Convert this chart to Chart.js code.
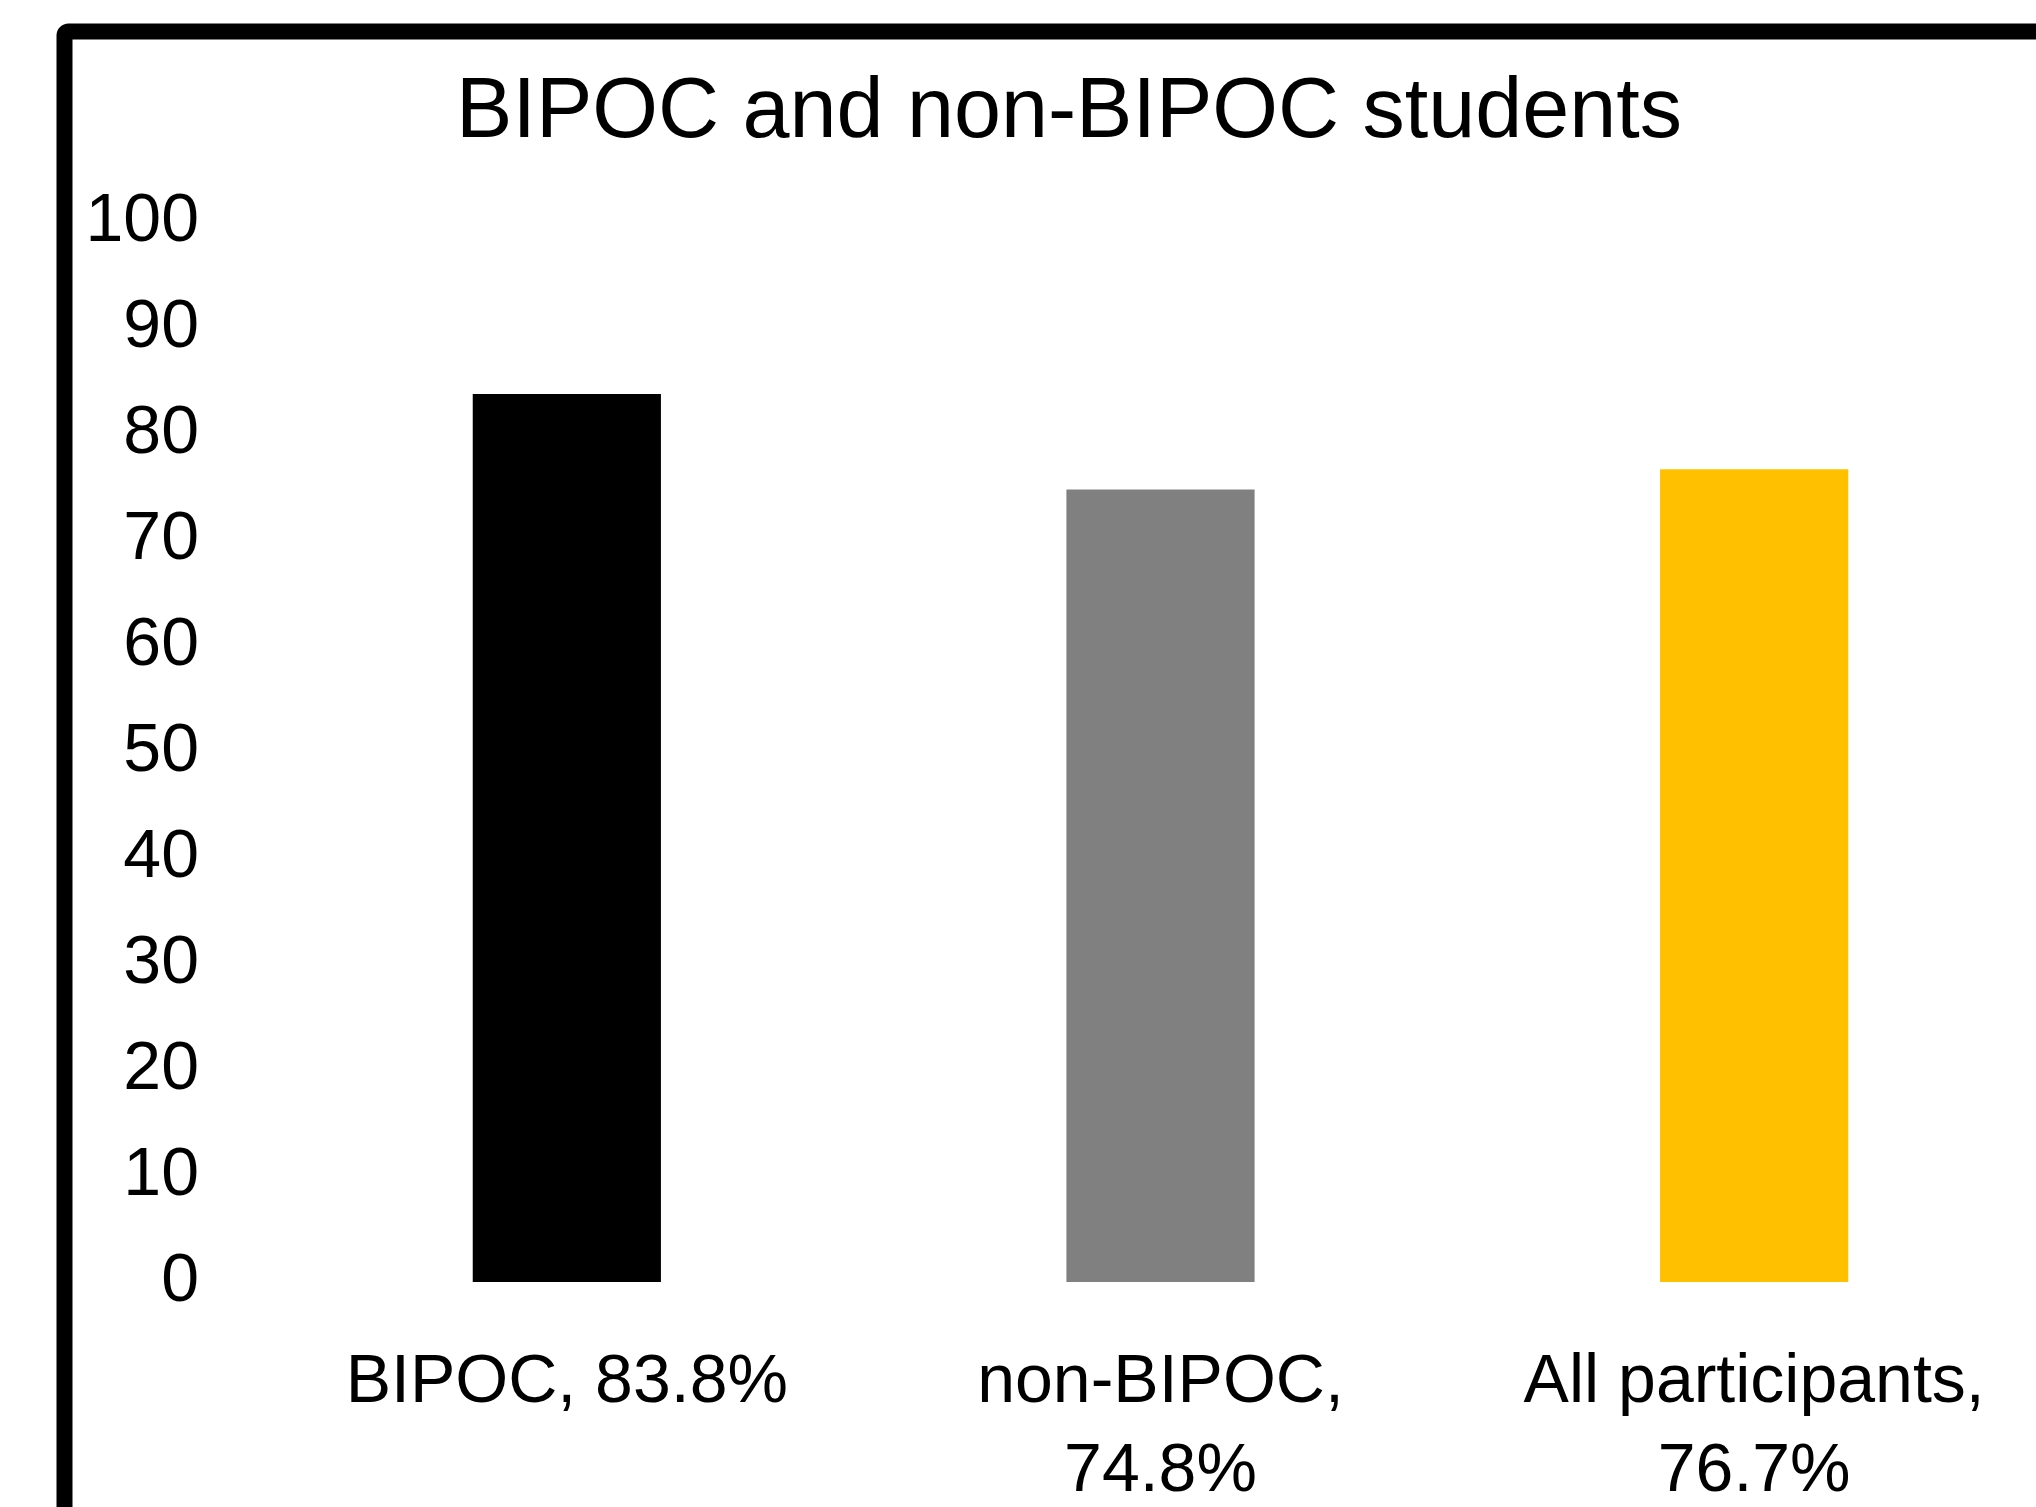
<!DOCTYPE html>
<html>
<head>
<meta charset="utf-8">
<script src="https://cdn.jsdelivr.net/npm/chart.js@4.4.1/dist/chart.umd.min.js"></script>
<style>
  html, body { margin: 0; padding: 0; background: #ffffff; overflow: hidden; }
  #wrap { position: absolute; left: 0; top: 0; width: 2060px; height: 1600px; }
</style>
</head>
<body>
<div id="wrap"><canvas id="chart" width="2060" height="1600"></canvas></div>
<script>
// Share of students per group (percent)
const categories = ["BIPOC", "non-BIPOC", "All participants"];
const values = [83.8, 74.8, 76.7];
const barColors = ["#000000", "#808080", "#FFC000"];
const chartTitle = "BIPOC and non-BIPOC students";

const FONT = "'Liberation Sans', Arial, sans-serif";
const TICK_SIZE = 68;
const CANVAS_H = 1600;

// Category label = name plus its value; long ones wrap after the comma
const measure = document.createElement("canvas").getContext("2d");
measure.font = TICK_SIZE + "px " + FONT;
const labels = categories.map((name, i) => {
  const text = name + ", " + values[i].toFixed(1) + "%";
  if (measure.measureText(text).width <= 480) return text;
  return [name + ",", values[i].toFixed(1) + "%"];
});

// Heavy outline of the chart frame (continues past the right and bottom edges)
const frame = {
  id: "frame",
  afterDraw(chart) {
    const ctx = chart.ctx;
    ctx.save();
    ctx.strokeStyle = "#000000";
    ctx.lineWidth = 16;
    ctx.lineJoin = "round";
    ctx.beginPath();
    ctx.roundRect(64.5, 31.5, 2200, 1700, 4);
    ctx.stroke();
    ctx.restore();
  }
};

new Chart(document.getElementById("chart"), {
  type: "bar",
  data: {
    labels: labels,
    datasets: [{
      data: values,
      backgroundColor: barColors,
      borderWidth: 0,
      categoryPercentage: 1,
      barPercentage: 0.317
    }]
  },
  options: {
    responsive: false,
    animation: false,
    layout: { padding: { left: 87, right: 9, top: 9, bottom: 0 } },
    plugins: {
      legend: { display: false },
      tooltip: { enabled: false },
      title: {
        display: true,
        text: chartTitle,
        color: "#000000",
        font: { family: FONT, size: 84.5, weight: "normal", lineHeight: 1.2 },
        padding: { top: 54, bottom: 58 }
      }
    },
    scales: {
      x: {
        grid: { display: false, drawTicks: false },
        border: { display: false },
        afterFit(scale) { scale.height = CANVAS_H - 1282; },
        ticks: {
          color: "#000000",
          padding: 56,
          maxRotation: 0,
          autoSkip: false,
          font: { family: FONT, size: TICK_SIZE, lineHeight: 1.32 }
        }
      },
      y: {
        min: 0,
        max: 100,
        grid: { display: false, drawTicks: false },
        border: { display: false },
        afterFit(scale) { scale.width = 183; },
        ticks: {
          stepSize: 10,
          color: "#000000",
          padding: 71,
          font: { family: FONT, size: TICK_SIZE, lineHeight: 1.2 }
        }
      }
    }
  },
  plugins: [frame]
});
</script>
</body>
</html>
